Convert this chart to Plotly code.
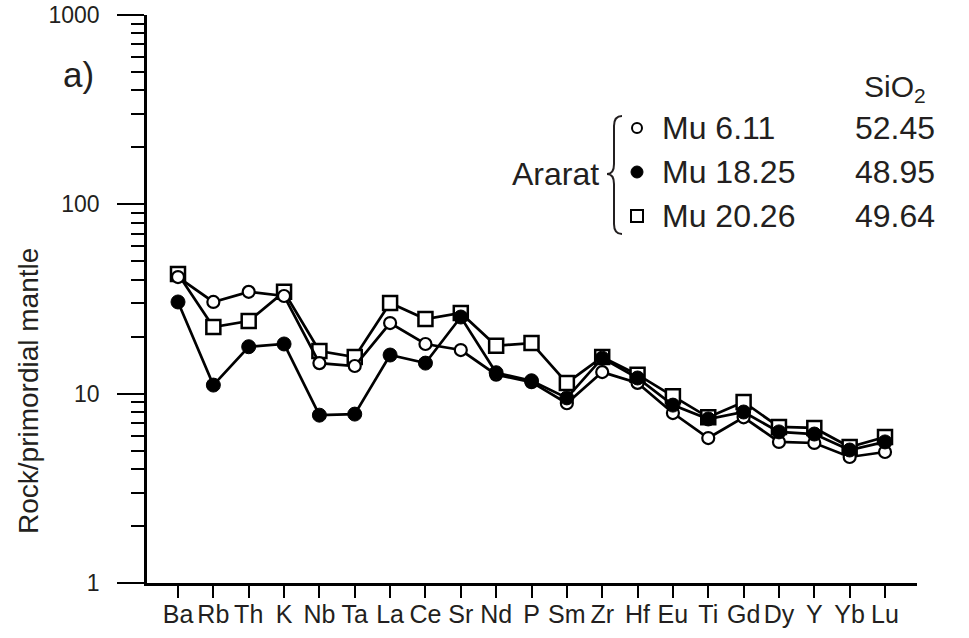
import plotly.graph_objects as go

# Trace elements, in spider-diagram order
elements = ["Ba", "Rb", "Th", "K", "Nb", "Ta", "La", "Ce", "Sr", "Nd", "P",
            "Sm", "Zr", "Hf", "Eu", "Ti", "Gd", "Dy", "Y", "Yb", "Lu"]

# Primordial-mantle normalised concentrations
mu_6_11 = [41.3, 30.5, 34.5, 32.8, 14.5, 14.0, 23.6, 18.3, 17.0, 12.6, 11.5,
           8.9, 13.0, 11.4, 7.9, 5.83, 7.5, 5.56, 5.49, 4.63, 4.92]
mu_18_25 = [30.5, 11.1, 17.7, 18.3, 7.7, 7.8, 16.0, 14.5, 25.4, 12.9, 11.7,
            9.5, 15.4, 12.1, 8.7, 7.35, 8.0, 6.28, 6.12, 5.04, 5.56]
mu_20_26 = [42.9, 22.5, 24.2, 34.5, 16.8, 15.6, 30.1, 24.8, 26.7, 17.9, 18.5,
            11.4, 15.6, 12.6, 9.7, 7.5, 9.04, 6.67, 6.59, 5.23, 5.9]

sample_names = ["Mu 6.11", "Mu 18.25", "Mu 20.26"]
sio2 = ["52.45", "48.95", "49.64"]

x_pos = list(range(len(elements)))

FONT = "Arial, Liberation Sans, sans-serif"
TXT = "#231f20"

# plot-area geometry in pixels (used to place the hand-made legend)
W, H = 969, 638
ML, MR, MT, MB = 147, 52, 15, 55
PW, PH = W - ML - MR, H - MT - MB


def px(xp):
    return (xp - ML) / PW


def py(yp):
    return (H - MB - yp) / PH


fig = go.Figure()

line = dict(color="black", width=2.7)
fig.add_trace(go.Scatter(
    x=x_pos, y=mu_20_26, mode="lines+markers", line=line,
    marker=dict(symbol="square", size=14, color="white",
                line=dict(color="black", width=2.5)),
    name=sample_names[2]))
fig.add_trace(go.Scatter(
    x=x_pos, y=mu_6_11, mode="lines+markers", line=line,
    marker=dict(symbol="circle", size=12, color="white",
                line=dict(color="black", width=2.2)),
    name=sample_names[0]))
fig.add_trace(go.Scatter(
    x=x_pos, y=mu_18_25, mode="lines+markers", line=line,
    marker=dict(symbol="circle", size=14, color="black",
                line=dict(color="black", width=1)),
    name=sample_names[1]))

fig.update_xaxes(
    range=[-0.877, 20.905], tickmode="array", tickvals=x_pos, ticktext=elements,
    ticks="outside", ticklen=12, tickwidth=2, tickcolor="black",
    showline=True, linecolor="black", linewidth=2.5, showgrid=False,
    zeroline=False, automargin=False, ticklabelstandoff=-5,
    tickfont=dict(family=FONT, size=25, color=TXT),
)
fig.update_yaxes(
    type="log", range=[0, 3], tickmode="array", tickvals=[1, 10, 100, 1000],
    ticktext=["1", "10", "100", "1000"],
    ticks="outside", ticklen=27, tickwidth=2, tickcolor="black",
    minor=dict(ticks="outside", ticklen=13, tickwidth=2, tickcolor="black",
               dtick="D1", showgrid=False),
    showline=True, linecolor="black", linewidth=2.5, showgrid=False,
    zeroline=False, automargin=False, ticklabelstandoff=13,
    tickfont=dict(family=FONT, size=23, color=TXT),
)

ann = []
ann.append(dict(text="Rock/primordial mantle", x=px(28), y=py(391), textangle=-90,
                font=dict(family=FONT, size=28, color=TXT)))
ann.append(dict(text="a)", x=px(78), y=py(75), font=dict(family=FONT, size=35, color=TXT)))
ann.append(dict(text="SiO<sub>2</sub>", x=px(895), y=py(88),
                font=dict(family=FONT, size=30, color=TXT)))
ann.append(dict(text="Ararat", x=px(601), y=py(174), xanchor="right",
                font=dict(family=FONT, size=32, color=TXT)))
rows_y = [128, 172, 216]
for name, val, yy in zip(sample_names, sio2, rows_y):
    ann.append(dict(text=name, x=px(660), y=py(yy), xanchor="left",
                    font=dict(family=FONT, size=32, color=TXT)))
    ann.append(dict(text=val, x=px(937), y=py(yy), xanchor="right",
                    font=dict(family=FONT, size=32, color=TXT)))
for a in ann:
    a.update(xref="paper", yref="paper", showarrow=False, yanchor="middle")
    a.setdefault("xanchor", "center")

shapes = []
# curly brace grouping the Ararat samples
bx, top, mid, bot = 614, 116, 174, 234
path = (f"M {px(bx + 8)},{py(top)} "
        f"Q {px(bx)},{py(top)} {px(bx)},{py(top + 10)} "
        f"L {px(bx)},{py(mid - 10)} "
        f"Q {px(bx)},{py(mid)} {px(bx - 7)},{py(mid)} "
        f"Q {px(bx)},{py(mid)} {px(bx)},{py(mid + 10)} "
        f"L {px(bx)},{py(bot - 10)} "
        f"Q {px(bx)},{py(bot)} {px(bx + 8)},{py(bot)}")
shapes.append(dict(type="path", xref="paper", yref="paper", path=path,
                   line=dict(color=TXT, width=2)))

# legend symbols
mx = px(637)
shapes.append(dict(type="circle", xref="paper", yref="paper", xsizemode="pixel",
                   ysizemode="pixel", xanchor=mx, yanchor=py(128),
                   x0=-5, x1=5, y0=-5, y1=5, line=dict(color="black", width=2),
                   fillcolor="white"))
shapes.append(dict(type="circle", xref="paper", yref="paper", xsizemode="pixel",
                   ysizemode="pixel", xanchor=mx, yanchor=py(172),
                   x0=-6, x1=6, y0=-6, y1=6, line=dict(color="black", width=1),
                   fillcolor="black"))
shapes.append(dict(type="rect", xref="paper", yref="paper", xsizemode="pixel",
                   ysizemode="pixel", xanchor=mx, yanchor=py(216),
                   x0=-6, x1=6, y0=-6, y1=6, line=dict(color="black", width=2),
                   fillcolor="white"))

fig.update_layout(
    width=W, height=H, margin=dict(l=ML, r=MR, t=MT, b=MB),
    plot_bgcolor="white", paper_bgcolor="white", showlegend=False,
    annotations=ann, shapes=shapes,
)

fig.write_html("out.html")
